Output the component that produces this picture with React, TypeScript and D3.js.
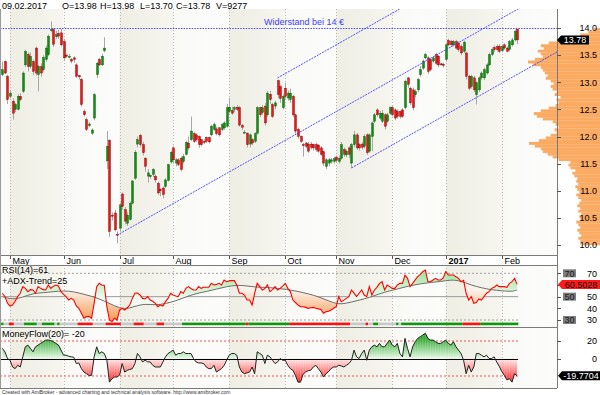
import React, { useEffect, useRef } from "react";
import * as d3 from "d3";

const FONT = "Arial, 'Liberation Sans', sans-serif";

// month labels and the bar index where each month starts
const months = ["May", "Jun", "Jul", "Aug", "Sep", "Oct", "Nov", "Dec", "2017", "Feb"];
const monthStart = [3, 24, 46, 67, 89, 111, 131, 153, 174, 196];

// daily candles, 27.04.2016 - 09.02.2017
const opens = [
  13.14,13.38,13.11,12.74,12.65,12.50,12.50,12.74,12.83,13.32,
  13.51,13.29,13.38,13.63,13.14,13.29,13.23,13.42,13.51,13.96,
  13.97,13.84,13.90,13.91,13.75,13.50,13.47,13.42,13.45,13.32,
  13.12,13.05,12.46,12.31,12.20,12.06,12.34,13.14,13.42,13.32,
  13.58,11.55,11.93,10.55,10.59,10.20,10.31,10.94,10.65,10.40,
  10.47,10.77,11.23,11.86,12.02,11.85,11.60,11.27,11.27,11.30,
  11.27,11.14,11.02,11.05,11.08,11.19,11.53,11.79,11.51,11.57,
  11.60,11.54,11.67,11.88,11.94,12.05,12.03,12.00,11.94,11.91,
  11.98,11.98,12.03,12.13,12.14,12.16,12.13,12.16,12.19,12.46,
  12.48,12.50,12.54,12.53,12.20,12.08,12.06,11.86,11.94,11.91,
  12.06,12.53,12.44,12.56,12.40,12.78,12.59,12.56,13.03,12.92,
  12.53,12.89,12.71,12.68,12.74,12.40,12.13,12.00,11.85,11.88,
  11.86,11.86,11.85,11.85,11.84,11.79,11.72,11.45,11.51,11.54,
  11.54,11.62,11.54,11.60,11.76,11.66,11.79,11.51,11.85,12.03,
  11.85,11.86,11.82,12.03,11.73,12.00,12.28,12.49,12.34,12.28,
  12.40,12.28,12.43,12.53,12.49,12.46,12.46,12.49,12.53,13.08,
  12.89,12.86,12.77,12.86,13.14,13.26,13.45,13.45,13.42,13.39,
  13.51,13.48,13.34,13.33,13.42,13.77,13.75,13.69,13.75,13.72,
  13.66,13.57,13.54,13.11,12.92,13.08,12.77,12.86,13.08,13.08,
  13.17,13.32,13.51,13.64,13.66,13.66,13.58,13.69,13.63,13.60,
  13.69,13.78,13.98,
];
const highs = [
  13.38,13.40,13.14,12.85,12.70,12.62,12.78,12.80,13.20,13.60,
  13.55,13.55,13.42,13.66,13.32,13.35,13.50,13.68,13.88,14.12,
  14.00,13.95,13.97,13.99,13.80,13.52,13.52,13.45,13.48,13.35,
  13.14,13.08,12.50,12.35,12.27,12.15,12.80,13.38,13.45,13.52,
  13.83,12.10,11.95,10.60,10.65,10.25,10.78,10.97,10.70,10.60,
  10.80,11.20,11.75,12.00,12.05,11.90,11.62,11.40,11.30,11.42,
  11.30,11.17,11.05,11.08,11.23,11.50,11.74,11.82,11.60,11.60,
  11.63,11.68,11.92,12.00,12.37,12.08,12.06,12.02,11.96,11.95,
  12.00,12.00,12.22,12.26,12.18,12.18,12.25,12.28,12.60,12.71,
  12.55,12.56,12.58,12.56,12.23,12.12,12.08,12.06,11.97,12.08,
  12.56,12.55,12.58,12.62,12.84,12.84,12.62,12.66,13.05,12.95,
  12.78,12.99,12.85,12.88,12.77,12.42,12.16,12.02,11.88,11.90,
  11.90,11.90,11.87,11.88,11.86,11.82,11.74,11.60,11.60,11.60,
  11.63,11.65,11.65,11.90,11.80,11.76,11.82,11.88,12.10,12.07,
  11.88,11.90,12.04,12.06,12.06,12.28,12.44,12.52,12.47,12.49,
  12.43,12.44,12.56,12.56,12.52,12.50,12.48,12.52,13.05,13.10,
  12.92,12.90,12.87,13.08,13.30,13.42,13.54,13.48,13.45,13.48,
  13.54,13.50,13.36,13.36,13.72,13.80,13.78,13.78,13.78,13.75,
  13.70,13.77,13.56,13.14,13.14,13.12,13.02,13.11,13.20,13.27,
  13.36,13.55,13.64,13.68,13.70,13.70,13.70,13.72,13.66,13.78,
  13.82,13.97,13.98,
];
const lows = [
  13.11,13.15,12.60,12.70,12.31,12.45,12.48,12.65,12.80,13.28,
  13.20,13.25,13.13,13.12,12.83,13.10,13.20,13.38,13.48,13.92,
  13.65,13.80,13.80,13.66,13.40,13.45,13.44,13.35,13.36,13.08,
  13.05,12.55,12.37,12.10,12.17,12.03,12.30,13.08,13.30,13.30,
  13.55,11.40,10.15,10.45,10.25,10.03,10.25,10.65,10.38,10.35,
  10.45,10.75,11.20,11.80,11.80,11.65,11.35,11.15,11.22,11.25,
  11.15,10.92,10.90,10.86,11.05,11.17,11.50,11.50,11.45,11.45,
  11.36,11.50,11.65,11.75,11.92,11.88,11.90,11.79,11.82,11.86,
  11.88,11.87,12.00,12.10,12.02,12.00,12.10,12.12,12.16,12.43,
  12.40,12.45,12.47,12.18,12.12,12.05,11.80,11.80,11.84,11.88,
  12.04,12.36,12.40,12.20,12.36,12.60,12.34,12.50,12.70,12.62,
  12.50,12.70,12.66,12.62,12.36,12.05,11.96,11.88,11.63,11.78,
  11.70,11.76,11.74,11.72,11.70,11.64,11.46,11.40,11.45,11.50,
  11.50,11.52,11.50,11.57,11.62,11.62,11.60,11.42,11.80,11.75,
  11.74,11.76,11.78,11.66,11.70,11.73,12.25,12.36,12.30,12.25,
  12.13,12.25,12.40,12.37,12.30,12.33,12.33,12.34,12.50,12.90,
  12.58,12.48,12.72,12.82,13.10,13.23,13.42,13.15,13.20,13.36,
  13.32,13.28,13.30,13.27,13.38,13.66,13.65,13.66,13.60,13.56,
  13.50,13.54,13.05,12.85,12.88,12.82,12.59,12.82,13.04,13.04,
  13.14,13.30,13.48,13.56,13.57,13.54,13.55,13.60,13.55,13.57,
  13.66,13.75,13.70,
];
const closes = [
  13.23,13.17,12.68,12.80,12.43,12.59,12.74,12.68,13.17,13.57,
  13.29,13.48,13.20,13.17,13.29,13.17,13.46,13.63,13.85,13.97,
  13.70,13.88,13.85,13.69,13.45,13.48,13.48,13.39,13.42,13.11,
  13.10,12.59,12.40,12.13,12.23,12.12,12.77,13.35,13.32,13.48,
  13.63,11.82,10.25,10.53,10.28,10.18,10.74,10.71,10.44,10.55,
  10.77,11.18,11.71,11.94,11.85,11.70,11.45,11.33,11.28,11.39,
  11.20,10.96,11.00,10.93,11.20,11.48,11.71,11.57,11.57,11.48,
  11.39,11.63,11.89,11.79,12.10,11.91,11.94,11.85,11.85,11.90,
  11.91,11.90,12.19,12.22,12.05,12.03,12.22,12.25,12.53,12.54,
  12.43,12.53,12.50,12.21,12.17,12.08,11.85,12.03,11.88,12.05,
  12.53,12.40,12.53,12.25,12.80,12.68,12.37,12.62,12.77,12.70,
  12.74,12.74,12.80,12.80,12.40,12.10,12.00,11.91,11.83,11.82,
  11.73,11.80,11.79,11.76,11.73,11.67,11.51,11.57,11.57,11.57,
  11.59,11.56,11.60,11.85,11.67,11.73,11.67,11.85,12.03,11.79,
  11.79,11.80,12.00,11.70,12.03,12.25,12.40,12.40,12.43,12.43,
  12.19,12.40,12.53,12.40,12.34,12.37,12.37,12.37,13.02,12.96,
  12.62,12.53,12.83,13.05,13.23,13.39,13.51,13.20,13.23,13.45,
  13.35,13.32,13.33,13.32,13.69,13.69,13.69,13.75,13.63,13.60,
  13.54,13.74,13.11,12.89,13.11,12.86,12.99,13.08,13.17,13.23,
  13.32,13.51,13.60,13.60,13.60,13.57,13.66,13.63,13.57,13.75,
  13.78,13.94,13.78,
];

// RSI(14) and its smooth companion line
const rsi = [
  52.9,50,44.3,42,42.8,46,50,52.9,58.6,57.1,
  54.3,56,55.7,52.9,58.6,57.1,56,55.7,60,57.1,
  59,60,59.2,54.3,52,50,47.1,48.5,47.1,42,
  40,35.8,31.5,32.9,33,31.5,44.3,58.6,61.4,60,
  59.5,41.4,30,28.6,31.5,30,38.6,40,38.6,40.5,
  42.8,48.5,52.9,53,51.4,48.5,48,50,47.1,46,
  44.3,41.4,42.8,42,45.7,48.5,52.9,51.4,50.5,50,
  54.3,52.9,57.1,58.6,57,55.7,55.7,58.6,57.1,58,
  58,58,61.4,60,60.5,61.4,60,64.3,62.8,63.5,
  63.7,63.7,60,52.9,52.9,51.4,47.1,47.1,42.8,52.9,
  61.4,58.6,55.7,57,60,54.3,56,58.6,55.7,57.1,
  59,61.4,57.1,54.3,47.1,45,42.8,41.4,41.4,40.8,
  40,40.5,40.8,40,39.5,39.1,35.8,37.1,37.5,38.6,
  40,41.4,50,45.7,47,48.5,50,55.7,53,50,
  52.9,55.7,51.4,50,58.6,51.4,55.7,58,61.4,62.8,
  55.7,60,58.6,57.1,57.1,60,61.4,61.4,68.5,65.7,
  58.6,61.4,64.3,67.1,69,71.4,72.8,62.8,62.8,64.3,
  65.7,64.3,64.3,66,71.4,68.5,68.5,68.5,67.1,65.7,
  62.8,64,52.9,47.1,50,44.3,45,48,47.1,50,
  52.9,54.3,57.1,58,60,58.6,58.6,58.6,58,61.4,
  62.8,65.7,60.5,
];
const trendBars = [0,4,8,12,16,20,24,28,32,36,40,44,48,52,56,60,64,68,72,76,80,84,88,92,96,100,
  104,108,112,116,120,124,128,132,136,140,144,148,152,156,160,164,168,172,176,180,184,188,192,196,200,202];
const trendLine = [50,47.5,49.5,52.9,53.3,54.3,55.1,54.3,52,49.8,46.3,42,39,41.7,44,42.6,44,46.3,49.7,52.8,
  54.3,56.5,58.6,60,59.2,58,58,57.1,56.2,54.5,52.5,50,46.4,43.2,44.8,47,49.2,52.5,55,57.1,59.4,61,62.2,62.8,
  64.6,63.5,59.8,57.6,55.8,55,54.3,55.7];
// ADX trend strip: g = up, r = down, n = neutral (runs of bars)
const trendRuns: [string, number][] = [["g",1],["n",2],["r",2],["n",4],["g",5],["n",2],["g",5],["n",1],["g",1],
  ["n",7],["r",6],["n",5],["r",6],["n",5],["r",4],["n",5],["r",3],["n",7],["g",25],["r",1],["g",16],["r",24],
  ["n",6],["r",1],["n",2],["g",2],["n",7],["g",1],["n",1],["g",24],["r",7],["g",15]];

// MoneyFlow(20)
const moneyFlow = [
  11.5,7.6,0,-2,-9.7,-11.6,-7.8,-9.7,1.9,13.4,
  15.3,11.5,7.6,13.4,15.3,17.3,19.2,21,21.1,20.5,
  19.2,17.3,15.3,9.6,3.8,3.8,2.6,1.9,1.5,-5.8,
  -5.1,-11.6,-15.5,-17.4,-19.3,-19.3,1.9,13.4,5.7,7.6,
  5.7,-2,-27,-23.2,-21.2,-21.2,-19,-5.8,-15.5,-13.5,
  -12.5,-11.6,-5.8,5.7,1.9,-3.9,-2,-3.9,-3.9,-7.8,
  -9.7,-9.7,-9.7,-3.9,1.9,5.7,7.6,9.6,3.8,5.7,
  5.7,7.6,5.7,5.7,5.7,0,-3.9,-5.1,-5.1,-5.8,
  -9.7,-11.6,-11.6,-7.8,-15.5,-13.5,-11.6,-8,-2,3.8,
  5.7,5.7,3.8,-9.7,-15.5,-17.4,-16.4,-15.5,-9.7,-17.4,
  7.6,5.7,3.8,-5.8,3.8,1.9,-2,-5.8,-3.9,0,
  -2,-2,-7.8,-11.6,-13.5,-19.3,-27,-27,-18,-15.5,
  -14,-13.5,-9.7,-7.8,-11.6,-15.5,-21.2,-17.4,-15,-11.6,
  -9.7,-9.7,-7.8,-8.5,-9.7,-7.8,-5.8,-2,9.6,1.9,
  0,5.7,9.6,-2,9.6,13.4,15.3,13.4,17.3,13.4,
  13.4,17.3,21.1,15.3,13.4,17.3,5.7,1.9,23,11.5,
  1.9,13.4,19.2,23,25,26.9,28.8,23,21.1,21.1,
  19.2,17.3,17.3,19.2,21.1,17.3,15.3,19.2,13.4,9.6,
  5.7,-2,-17.4,-7.8,-15.5,-9.7,5.7,5.7,3.8,1.9,
  3.8,0,0,1.9,-3.9,-9,-15,-19.3,-24.5,-23,
  -27,-17.4,-19.8,
];

// volume at price (bins of 0.05, lower edge), relative volume
const vpPrice = [
  10.00,10.05,10.10,10.15,10.20,10.25,10.30,10.35,10.40,10.45,
  10.50,10.55,10.60,10.65,10.70,10.75,10.80,10.85,10.90,10.95,
  11.00,11.05,11.10,11.15,11.20,11.25,11.30,11.35,11.40,11.45,
  11.50,11.55,11.60,11.65,11.70,11.75,11.80,11.85,11.90,11.95,
  12.00,12.05,12.10,12.15,12.20,12.25,12.30,12.35,12.40,12.45,
  12.50,12.55,12.60,12.65,12.70,12.75,12.80,12.85,12.90,12.95,
  13.00,13.05,13.10,13.15,13.20,13.25,13.30,13.35,13.40,13.45,
  13.50,13.55,13.60,13.65,13.70,13.75,13.80,13.85,13.90,13.95,
];
const vpVolume = [
  18,20,22,19,21,23,20,22,24,20,
  21,19,22,20,23,21,19,22,24,21,
  23,25,22,24,23,26,28,25,30,32,
  30,42,48,53,58,60,66,72,62,55,
  50,44,46,42,45,48,58,64,67,60,
  52,45,42,44,40,46,44,48,50,47,
  50,55,53,56,58,60,68,73,66,58,
  60,63,57,60,52,44,40,20,12,6,
];

// trend channel: start bar, start price, rise per bar
const channelStart = [45, 108, 137];
const channelPrice = [10.18, 13.08, 11.42];
const channelSlope = 0.0265;

const priceTicks = [10, 10.5, 11, 11.5, 12, 12.5, 13, 13.5, 14];
const rsiTicks = [70, 50, 40, 30];
const rsiBoxes = [70, 50, 30];
const mfTicks = [20, 0];

function App() {
  const ref = useRef<HTMLDivElement>(null);

  useEffect(() => {
    const root = d3.select(ref.current);
    root.selectAll("*").remove();
    const svg = root.append("svg")
      .attr("width", 600).attr("height", 395)
      .style("display", "block")
      .style("font-family", FONT);

    const n = closes.length;
    const x = d3.scaleLinear().domain([0, n - 1]).range([2.4, 517.1]);
    const step = x(1) - x(0);
    const plotR = 557;
    const main = { top: 9, bottom: 255 };
    const rsiP = { top: 265, bottom: 327 };
    const mfP = { top: 327, bottom: 388 };
    const yP = d3.scaleLinear().domain([10, 14]).range([245, 28]);
    const yR = d3.scaleLinear().domain([30, 70]).range([320, 273.3]);
    const yM = d3.scaleLinear().domain([-20, 20]).range([376, 341]);
    const lastX = x(n - 1) + 1;

    const defs = svg.append("defs");
    const grad = (id, x1, y1, x2, y2, stops, user = false) => {
      const g = defs.append("linearGradient").attr("id", id)
        .attr("x1", x1).attr("y1", y1).attr("x2", x2).attr("y2", y2);
      if (user) g.attr("gradientUnits", "userSpaceOnUse");
      stops.forEach(([o, c]) => g.append("stop").attr("offset", o).attr("stop-color", c));
    };
    grad("bandDark", "0", "0", "1", "0", [[0, "#efeee4"], [1, "#f6f5ef"]]);
    grad("bandLight", "0", "0", "1", "0", [[0, "#f9f9f6"], [1, "#fcfcfb"]]);
    grad("rsiUp", 0, 272, 0, 300, [[0, "#9fe49f"], [1, "#f4fcf4"]], true);
    grad("rsiDn", 0, 322, 0, 290, [[0, "#f6964f"], [1, "#fdf2ea"]], true);
    grad("mfUp", 0, 338, 0, 358, [[0, "#18a018"], [1, "#dff7df"]], true);
    grad("mfDn", 0, 382, 0, 359, [[0, "#ff0c0c"], [1, "#ffe6e6"]], true);

    defs.append("clipPath").attr("id", "mainClip").append("rect")
      .attr("x", 0).attr("y", main.top).attr("width", plotR).attr("height", main.bottom - main.top);

    svg.append("rect").attr("width", 600).attr("height", 395).attr("fill", "#ffffff");

    // month bands in each panel
    const edges = [0, ...monthStart.map(m => x(m)), plotR];
    [main, rsiP, mfP].forEach(p => {
      for (let k = 0; k < edges.length - 1; k++) {
        const dark = k >= 1 && (k - 1) % 2 === 0;
        svg.append("rect")
          .attr("x", edges[k]).attr("y", p.top)
          .attr("width", edges[k + 1] - edges[k]).attr("height", p.bottom - p.top)
          .attr("fill", dark ? "url(#bandDark)" : "url(#bandLight)");
      }
      monthStart.forEach(m => {
        svg.append("line")
          .attr("x1", Math.round(x(m)) + 0.5).attr("x2", Math.round(x(m)) + 0.5)
          .attr("y1", p.top).attr("y2", p.bottom)
          .attr("stroke", "#b8b8b8").attr("stroke-dasharray", "1 2");
      });
    });

    // volume profile from the right edge
    const vpW = d3.scaleLinear().domain([0, d3.max(vpVolume)]).range([0, 72]);
    svg.append("g").selectAll("rect").data(vpPrice).enter().append("rect")
      .attr("x", (d, i) => 600 - vpW(vpVolume[i]))
      .attr("width", (d, i) => vpW(vpVolume[i]))
      .attr("y", d => yP(d + 0.05))
      .attr("height", d => yP(d) - yP(d + 0.05) + 0.2)
      .attr("fill", "#fbaa62");

    // candles
    const candles = svg.append("g").attr("clip-path", "url(#mainClip)");
    for (let i = 0; i < n; i++) {
      const cx = Math.round(x(i));
      candles.append("line")
        .attr("x1", cx + 0.5).attr("x2", cx + 0.5)
        .attr("y1", yP(highs[i])).attr("y2", yP(lows[i]))
        .attr("stroke", "#a8a8a8").attr("stroke-width", 1);
      const up = closes[i] >= opens[i];
      const top = yP(Math.max(opens[i], closes[i]));
      const h = Math.max(1, Math.abs(yP(opens[i]) - yP(closes[i])));
      candles.append("rect")
        .attr("x", cx - 0.5).attr("width", 2)
        .attr("y", top).attr("height", h)
        .attr("fill", up ? "#0f8f0f" : "#ee1515")
        .attr("stroke", up ? "#075707" : "#7a0000").attr("stroke-width", 0.4);
    }

    // resistance line and trend channel
    svg.append("line")
      .attr("x1", 0).attr("x2", plotR).attr("y1", yP(14) + 0.5).attr("y2", yP(14) + 0.5)
      .attr("stroke", "#4a4aff").attr("stroke-dasharray", "1.5 1.2");
    svg.append("text").attr("x", 264).attr("y", 25).attr("font-size", 9)
      .attr("fill", "#3c3cff").text("Widerstand bei 14 €");
    const chan = svg.append("g").attr("clip-path", "url(#mainClip)");
    channelStart.forEach((s, k) => {
      const endBar = 225;
      chan.append("line")
        .attr("x1", x(s)).attr("y1", yP(channelPrice[k]))
        .attr("x2", x(endBar)).attr("y2", yP(channelPrice[k] + (endBar - s) * channelSlope))
        .attr("stroke", "#3f3fff").attr("stroke-width", 0.9).attr("stroke-dasharray", "2 1");
    });

    // header
    const head = [["09.02.2017", 2], ["O=13.98", 62], ["H=13.98", 100], ["L=13.70", 140], ["C=13.78", 176], ["V=9277", 216]];
    head.forEach(([t, hx]) => {
      svg.append("text").attr("x", hx).attr("y", 8.5).attr("font-size", 9).attr("fill", "#000").text(t as string);
    });

    // date axis
    svg.append("rect").attr("x", 0).attr("y", main.bottom).attr("width", plotR).attr("height", rsiP.top - main.bottom).attr("fill", "#ffffff");
    monthStart.forEach((m, k) => {
      const mx = Math.round(x(m)) + 0.5;
      svg.append("line").attr("x1", mx).attr("x2", mx).attr("y1", main.bottom).attr("y2", main.bottom + 4)
        .attr("stroke", "#555");
      svg.append("text").attr("x", mx + 2).attr("y", 263.5).attr("font-size", 9)
        .attr("font-weight", months[k] === "2017" ? "bold" : "normal")
        .text(months[k]);
    });

    // RSI panel
    const lineH = (y, dash, col, x2 = lastX) => svg.append("line")
      .attr("x1", 0).attr("x2", x2).attr("y1", y).attr("y2", y)
      .attr("stroke", col).attr("stroke-dasharray", dash);
    lineH(yR(70), "2 2", "#a0a0a0");
    lineH(yR(50), null, "#9a9a9a");
    lineH(yR(30), "2 2", "#a0a0a0");

    const rsiPts = rsi.map((v, i) => [x(i), yR(v)] as [number, number]);
    const grayPts = trendBars.map((b, k) => [x(b), yR(trendLine[k])] as [number, number]);
    const lin = d3.line().curve(d3.curveLinear);
    const smooth = d3.line().curve(d3.curveBasis);
    const grayRev = smooth([...grayPts].reverse()) as string;
    const between = (lin(rsiPts) as string) + "L" + grayRev.slice(1) + "Z";
    const grayPath = smooth(grayPts) as string;
    const x0 = grayPts[0][0], x1 = grayPts[grayPts.length - 1][0];
    defs.append("clipPath").attr("id", "aboveGray").append("path")
      .attr("d", grayPath + `L${x1},${rsiP.top}L${x0},${rsiP.top}Z`);
    defs.append("clipPath").attr("id", "belowGray").append("path")
      .attr("d", grayPath + `L${x1},${rsiP.bottom}L${x0},${rsiP.bottom}Z`);
    svg.append("path").attr("d", between).attr("fill", "url(#rsiUp)").attr("clip-path", "url(#aboveGray)");
    svg.append("path").attr("d", between).attr("fill", "url(#rsiDn)").attr("clip-path", "url(#belowGray)");
    svg.append("path").attr("d", grayPath).attr("fill", "none").attr("stroke", "#6e6e6e").attr("stroke-width", 1);
    svg.append("path").attr("d", lin(rsiPts)).attr("fill", "none").attr("stroke", "#ff0000").attr("stroke-width", 1.1);

    // trend strip
    const stripCol = { g: "#0a9a0a", r: "#ff1010", n: "#c9c9c9" };
    let bar = 0;
    trendRuns.forEach(([s, len]) => {
      svg.append("rect")
        .attr("x", x(bar) - step / 2).attr("width", len * step)
        .attr("y", 322.6).attr("height", 2.6)
        .attr("fill", stripCol[s]);
      bar += len;
    });

    svg.append("text").attr("x", 2).attr("y", 273).attr("font-size", 9).text("RSI(14)=61");
    svg.append("text").attr("x", 2).attr("y", 283.5).attr("font-size", 9).text("+ADX-Trend=25");

    // MoneyFlow panel
    lineH(yM(20), "2 2", "#f05050");
    lineH(yM(-20), "2 2", "#f05050");
    const mfArea = d3.area<number>().x((d, i) => x(i)).y0(yM(0)).y1(d => yM(d));
    defs.append("clipPath").attr("id", "mfAbove").append("rect")
      .attr("x", 0).attr("y", mfP.top).attr("width", plotR).attr("height", yM(0) - mfP.top);
    defs.append("clipPath").attr("id", "mfBelow").append("rect")
      .attr("x", 0).attr("y", yM(0)).attr("width", plotR).attr("height", mfP.bottom - yM(0));
    svg.append("path").attr("d", mfArea(moneyFlow)).attr("fill", "url(#mfUp)").attr("opacity", 0.9).attr("clip-path", "url(#mfAbove)");
    svg.append("path").attr("d", mfArea(moneyFlow)).attr("fill", "url(#mfDn)").attr("opacity", 0.9).attr("clip-path", "url(#mfBelow)");
    moneyFlow.forEach((v, i) => {
      svg.append("line")
        .attr("x1", x(i)).attr("x2", x(i)).attr("y1", yM(0)).attr("y2", yM(v))
        .attr("stroke", v >= 0 ? "#ffffff" : "#ffffff").attr("stroke-opacity", 0.35).attr("stroke-width", 0.6);
    });
    lineH(Math.round(yM(0)) + 0.5, null, "#000");
    svg.append("path").attr("d", d3.line<number>().x((d, i) => x(i)).y(d => yM(d))(moneyFlow))
      .attr("fill", "none").attr("stroke", "#222").attr("stroke-width", 1);
    svg.append("text").attr("x", 2).attr("y", 336.5).attr("font-size", 9).text("MoneyFlow(20)= -20");

    // panel frames
    [main.bottom, rsiP.top, mfP.top, mfP.bottom].forEach(y => {
      svg.append("line").attr("x1", 0).attr("x2", plotR).attr("y1", y + 0.5).attr("y2", y + 0.5).attr("stroke", "#7a7a7a");
    });
    svg.append("line").attr("x1", plotR + 0.5).attr("x2", plotR + 0.5).attr("y1", main.top).attr("y2", mfP.bottom)
      .attr("stroke", "#7a7a7a");
    svg.append("line").attr("x1", 0.5).attr("x2", 0.5).attr("y1", main.top).attr("y2", mfP.bottom)
      .attr("stroke", "#9a9a9a");

    // right axes
    const tick = (y) => svg.append("line").attr("x1", plotR).attr("x2", plotR + 4)
      .attr("y1", Math.round(y) + 0.5).attr("y2", Math.round(y) + 0.5).attr("stroke", "#555");
    priceTicks.forEach(p => {
      tick(yP(p));
      svg.append("text").attr("x", 597).attr("y", yP(p) + 3.3).attr("font-size", 9)
        .attr("text-anchor", "end").text(d3.format(".1f")(p));
    });
    tick(yR(60));
    rsiTicks.forEach(v => {
      tick(yR(v));
      svg.append("text").attr("x", 597).attr("y", yR(v) + 3.3).attr("font-size", 9)
        .attr("text-anchor", "end").text(v);
    });
    rsiBoxes.forEach(v => {
      svg.append("rect").attr("x", 563).attr("y", yR(v) - 4).attr("width", 13).attr("height", 8).attr("fill", "#7d7d7d");
      svg.append("text").attr("x", 569.5).attr("y", yR(v) + 3.2).attr("font-size", 9)
        .attr("text-anchor", "middle").attr("fill", "#1a1a1a").text(v);
    });
    mfTicks.forEach(v => {
      tick(yM(v));
      svg.append("text").attr("x", 597).attr("y", yM(v) + 3.3).attr("font-size", 9)
        .attr("text-anchor", "end").text(v);
    });

    // value markers
    const marker = (y, label, fill, color, x0m, x1m) => {
      svg.append("path")
        .attr("d", `M${x0m},${y}L${x0m + 4},${y - 4.5}L${x1m},${y - 4.5}L${x1m},${y + 4.5}L${x0m + 4},${y + 4.5}Z`)
        .attr("fill", fill);
      svg.append("text").attr("x", (x0m + 4 + x1m) / 2).attr("y", y + 3.2).attr("font-size", 9)
        .attr("text-anchor", "middle").attr("fill", color).text(label);
    };
    marker(yP(closes[n - 1]), "13.78", "#000", "#fff", 557, 589);
    marker(yR(rsi[n - 1]), "60.5028", "#ff1a1a", "#111", 558, 600);
    marker(yM(moneyFlow[n - 1]), "-19.7704", "#000", "#fff", 558, 600);

    svg.append("text").attr("x", 2).attr("y", 393.5).attr("font-size", 5)
      .attr("fill", "#333")
      .text("Created with AmiBroker - advanced charting and technical analysis software. http://www.amibroker.com");
  }, []);

  return <div ref={ref} style={{ position: "absolute", left: 0, top: 0 }} />;
}

export default App;
